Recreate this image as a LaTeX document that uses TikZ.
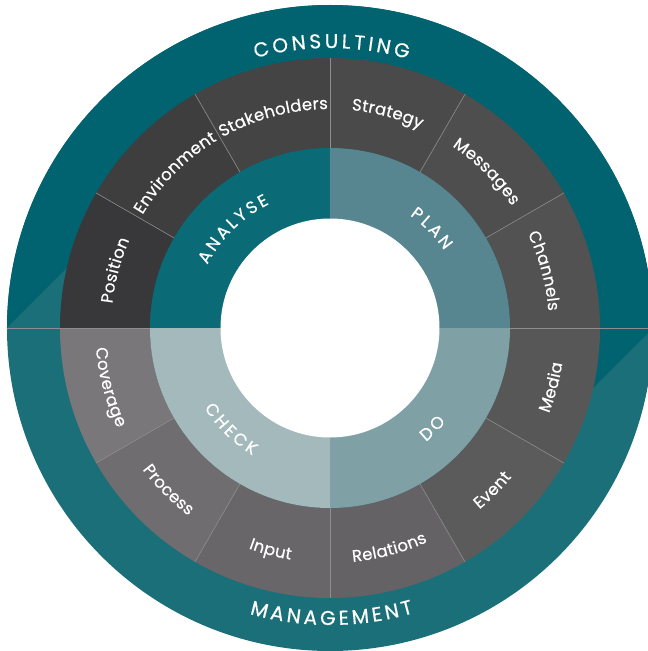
\documentclass[tikz,border=0pt]{standalone}
\usepackage{fontspec}
\usetikzlibrary{decorations.text}
\newfontfamily\wheelfamily{Poppins}[FakeBold=0.5]
\definecolor{banddark}{HTML}{00636F}
\definecolor{bandlight}{HTML}{1B6F79}
\definecolor{analysecol}{HTML}{0A6A75}
\definecolor{plancol}{HTML}{578690}
\definecolor{docol}{HTML}{7FA0A4}
\definecolor{checkcol}{HTML}{A4B9BC}
\definecolor{segA}{HTML}{38383A}
\definecolor{segB}{HTML}{3E3E3F}
\definecolor{segC}{HTML}{444444}
\definecolor{segD}{HTML}{4A4A4A}
\definecolor{segE}{HTML}{4E4E4E}
\definecolor{segF}{HTML}{525252}
\definecolor{segG}{HTML}{575757}
\definecolor{segH}{HTML}{5B5B5B}
\definecolor{segI}{HTML}{646264}
\definecolor{segJ}{HTML}{686668}
\definecolor{segK}{HTML}{6F6D70}
\definecolor{segL}{HTML}{79777A}
\definecolor{sepgray}{HTML}{8E8E8E}
\newcommand\segfont{\wheelfamily\fontsize{16.5}{18}\selectfont\color{white}\kern0.3pt}
\newcommand\phasefont{\wheelfamily\fontsize{17}{19}\selectfont\color{white}\kern2.9pt}
\newcommand\bandfont{\wheelfamily\fontsize{20}{22}\selectfont\color{white}\kern3.3pt}
\tikzset{
  arctext/.style 2 args={decorate, decoration={text along path, text align=center,
    text/.expanded={|\noexpand#1|#2}}},
  sepline/.style={draw=sepgray, line width=0.6pt}
}
\begin{document}
\begin{tikzpicture}[x=1pt, y=1pt]
  \useasboundingbox (-330,-323) rectangle (318,328);
  \fill[bandlight] (0,0) circle (323);
  \fill[banddark] (323,0) arc[start angle=0, end angle=180, radius=323] -- cycle;
  \fill[banddark] (323,0) -- (240,-83) -- (240,0) -- cycle;
  \fill[bandlight] (-323,0) -- (-240,83) -- (-240,0) -- cycle;
  \draw[sepline] (-323,0) -- (323,0);
  \foreach \a/\col/\lbl in {150/segA/Position, 120/segB/Environment, 90/segC/Stakeholders,
      60/segD/Strategy, 30/segE/Messages, 0/segF/Channels}{
    \fill[\col] (\a:180) arc[start angle=\a, end angle=\a+30, radius=180]
      -- ({\a+30}:270) arc[start angle=\a+30, end angle=\a, radius=270] -- cycle;
    \path[arctext={\segfont}{\lbl}] ({\a+40}:219) arc[start angle=\a+40, end angle=\a-10, radius=219];
  }
  \foreach \a/\col/\lbl in {-30/segG/Media, -60/segH/Event, -90/segI/Relations,
      -120/segJ/Input, -150/segK/Process, -180/segL/Coverage}{
    \fill[\col] (\a:180) arc[start angle=\a, end angle=\a+30, radius=180]
      -- ({\a+30}:270) arc[start angle=\a+30, end angle=\a, radius=270] -- cycle;
    \path[arctext={\segfont}{\lbl}] ({\a-10}:235) arc[start angle=\a-10, end angle=\a+40, radius=235];
  }
  \foreach \a in {0,30,...,330}
    \draw[sepline] (\a:180) -- (\a:270);
  \fill[analysecol] (0,0) -- (90:180) arc[start angle=90, end angle=180, radius=180] -- cycle;
  \fill[plancol] (0,0) -- (0:180) arc[start angle=0, end angle=90, radius=180] -- cycle;
  \fill[docol] (0,0) -- (-90:180) arc[start angle=-90, end angle=0, radius=180] -- cycle;
  \fill[checkcol] (0,0) -- (180:180) arc[start angle=180, end angle=270, radius=180] -- cycle;
  \fill[white] (0,0) circle (109.5);
  \path[arctext={\phasefont}{ANALYSE}] (180:138) arc[start angle=180, end angle=90, radius=138];
  \path[arctext={\phasefont}{PLAN}] (90:138) arc[start angle=90, end angle=0, radius=138];
  \path[arctext={\phasefont}{DO}] (-90:149) arc[start angle=-90, end angle=0, radius=149];
  \path[arctext={\phasefont}{CHECK}] (-180:149) arc[start angle=-180, end angle=-90, radius=149];
  \path[arctext={\bandfont}{CONSULTING}] (125:280) arc[start angle=125, end angle=55, radius=280];
  \path[arctext={\bandfont}{MANAGEMENT}] (-125:297) arc[start angle=-125, end angle=-55, radius=297];
\end{tikzpicture}
\end{document}
